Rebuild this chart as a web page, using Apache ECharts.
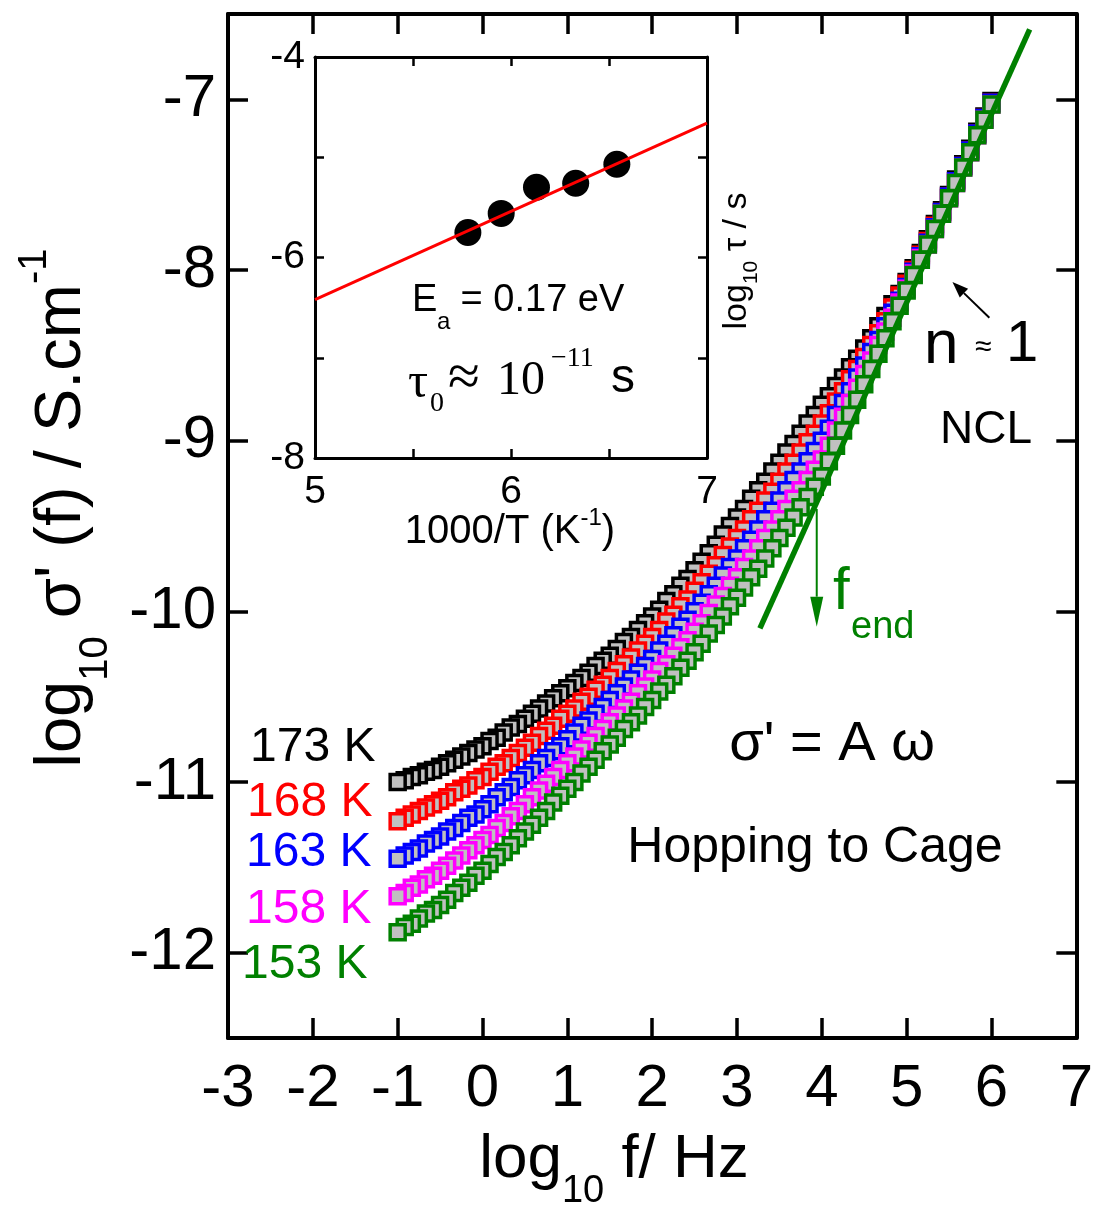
<!DOCTYPE html>
<html><head><meta charset="utf-8">
<script src="https://cdn.jsdelivr.net/npm/echarts@6/dist/echarts.min.js"></script>
<style>html,body{margin:0;padding:0;background:#fff}#c{width:1096px;height:1211px}</style>
</head><body><div id="c"></div>
<script>
// ---------- data ----------
const logF = [-1,-0.917,-0.833,-0.75,-0.667,-0.583,-0.5,-0.417,-0.333,-0.25,-0.167,-0.083,
  0,0.083,0.167,0.25,0.333,0.417,0.5,0.583,0.667,0.75,0.833,0.917,
  1,1.083,1.167,1.25,1.333,1.417,1.5,1.583,1.667,1.75,1.833,1.917,
  2,2.083,2.167,2.25,2.333,2.417,2.5,2.583,2.667,2.75,2.833,2.917,
  3,3.083,3.167,3.25,3.333,3.417,3.5,3.583,3.667,3.75,3.833,3.917,
  4,4.083,4.167,4.25,4.333,4.417,4.5,4.583,4.667,4.75,4.833,4.917,
  5,5.083,5.167,5.25,5.333,5.417,5.5,5.583,5.667,5.75,5.833,5.917,
  6];
const s173 = [-11.00,-10.99,-10.97,-10.96,-10.94,-10.93,-10.91,-10.89,-10.87,-10.85,-10.83,-10.81,
  -10.79,-10.76,-10.74,-10.71,-10.68,-10.66,-10.63,-10.60,-10.57,-10.54,-10.51,-10.48,
  -10.45,-10.42,-10.39,-10.36,-10.32,-10.29,-10.26,-10.22,-10.18,-10.15,-10.11,-10.07,
  -10.03,-9.99,-9.94,-9.90,-9.85,-9.81,-9.76,-9.71,-9.66,-9.61,-9.55,-9.50,
  -9.45,-9.40,-9.34,-9.29,-9.24,-9.18,-9.13,-9.07,-9.02,-8.96,-8.90,-8.85,
  -8.79,-8.74,-8.68,-8.63,-8.57,-8.52,-8.46,-8.40,-8.33,-8.27,-8.20,-8.14,
  -8.07,-7.99,-7.90,-7.82,-7.73,-7.65,-7.56,-7.47,-7.38,-7.29,-7.19,-7.10,
  -7.01];
const s168 = [-11.23,-11.21,-11.19,-11.17,-11.15,-11.13,-11.11,-11.09,-11.06,-11.04,-11.02,-10.99,
  -10.97,-10.94,-10.91,-10.89,-10.86,-10.83,-10.80,-10.77,-10.73,-10.70,-10.67,-10.63,
  -10.60,-10.57,-10.53,-10.50,-10.46,-10.43,-10.39,-10.35,-10.31,-10.27,-10.23,-10.19,
  -10.15,-10.11,-10.06,-10.02,-9.97,-9.93,-9.88,-9.83,-9.78,-9.73,-9.67,-9.62,
  -9.57,-9.52,-9.46,-9.41,-9.35,-9.30,-9.24,-9.18,-9.13,-9.07,-9.01,-8.96,
  -8.90,-8.84,-8.77,-8.71,-8.64,-8.58,-8.51,-8.44,-8.37,-8.30,-8.22,-8.15,
  -8.08,-8.00,-7.91,-7.83,-7.74,-7.66,-7.57,-7.48,-7.39,-7.30,-7.20,-7.11,
  -7.02];
const s163 = [-11.45,-11.43,-11.41,-11.39,-11.36,-11.34,-11.32,-11.29,-11.27,-11.24,-11.21,-11.19,
  -11.16,-11.13,-11.09,-11.06,-11.03,-10.99,-10.96,-10.93,-10.89,-10.86,-10.82,-10.79,
  -10.75,-10.71,-10.67,-10.64,-10.60,-10.56,-10.52,-10.48,-10.44,-10.40,-10.36,-10.32,
  -10.28,-10.23,-10.19,-10.14,-10.09,-10.05,-10.00,-9.95,-9.90,-9.85,-9.79,-9.74,
  -9.69,-9.63,-9.58,-9.52,-9.46,-9.41,-9.35,-9.29,-9.23,-9.18,-9.12,-9.06,
  -9.00,-8.93,-8.85,-8.78,-8.71,-8.63,-8.56,-8.48,-8.41,-8.33,-8.25,-8.18,
  -8.10,-8.01,-7.92,-7.84,-7.75,-7.66,-7.57,-7.48,-7.39,-7.30,-7.20,-7.11,
  -7.02];
const s158 = [-11.67,-11.65,-11.62,-11.60,-11.57,-11.55,-11.52,-11.49,-11.46,-11.43,-11.40,-11.37,
  -11.34,-11.31,-11.27,-11.24,-11.20,-11.17,-11.13,-11.09,-11.05,-11.01,-10.97,-10.93,
  -10.89,-10.85,-10.81,-10.77,-10.73,-10.69,-10.65,-10.61,-10.57,-10.53,-10.48,-10.44,
  -10.40,-10.35,-10.31,-10.26,-10.21,-10.17,-10.12,-10.07,-10.01,-9.96,-9.91,-9.85,
  -9.80,-9.74,-9.69,-9.63,-9.57,-9.52,-9.46,-9.40,-9.34,-9.29,-9.23,-9.17,
  -9.11,-9.03,-8.94,-8.86,-8.78,-8.69,-8.61,-8.53,-8.44,-8.36,-8.28,-8.19,
  -8.11,-8.02,-7.93,-7.85,-7.76,-7.67,-7.58,-7.49,-7.40,-7.31,-7.21,-7.12,
  -7.03];
const s153 = [-11.88,-11.85,-11.83,-11.80,-11.77,-11.75,-11.72,-11.69,-11.65,-11.62,-11.59,-11.55,
  -11.52,-11.48,-11.44,-11.41,-11.37,-11.33,-11.29,-11.25,-11.21,-11.17,-11.12,-11.08,
  -11.04,-11.00,-10.95,-10.91,-10.87,-10.82,-10.78,-10.74,-10.69,-10.65,-10.61,-10.56,
  -10.52,-10.47,-10.43,-10.38,-10.33,-10.29,-10.24,-10.19,-10.13,-10.08,-10.03,-9.97,
  -9.92,-9.86,-9.80,-9.75,-9.69,-9.63,-9.57,-9.51,-9.45,-9.39,-9.33,-9.27,
  -9.21,-9.12,-9.03,-8.94,-8.85,-8.76,-8.67,-8.58,-8.49,-8.40,-8.30,-8.21,
  -8.12,-8.03,-7.94,-7.85,-7.76,-7.67,-7.58,-7.49,-7.40,-7.31,-7.21,-7.12,
  -7.03];
const tempLabels = ['173 K','168 K','163 K','158 K','153 K'];
const nclX = [3.27, 6.45];
const nclY = [-10.10, -6.59];
const fendArrow = [3.94, -9.40, 3.94, -10.09];
const nArrow = [5.975, -8.28, 5.54, -8.07];
// inset
const invT = [5.78, 5.95, 6.13, 6.33, 6.54];
const logTau = [-5.75, -5.56, -5.30, -5.26, -5.07];
const fitX = [5, 7];
const fitY = [-6.42, -4.66];
const mainYTicks = [-12, -11, -10, -9, -8, -7];

// ---------- styles ----------
const SANS = '"Liberation Sans", Arial, sans-serif';
const SERIF = '"Liberation Serif", "Times New Roman", serif';
const colors = ['#000000', '#ff0000', '#0000ff', '#ff00ff', '#008000'];
const seriesValues = [s173, s168, s163, s158, s153];

const chart = echarts.init(document.getElementById('c'), null, {renderer: 'canvas'});

const ctx = document.createElement('canvas').getContext('2d');
function measure(t, size, fam) { ctx.font = size + 'px ' + fam; return ctx.measureText(t).width; }
function txt(x, y, t, size, color, fam, align) {
  return {type: 'text', x: x, y: y, z: 50,
    style: {text: t, fill: color || '#000', font: size + 'px ' + (fam || SANS),
      textAlign: align || 'left', align: align || 'left', textVerticalAlign: 'middle', verticalAlign: 'middle'}};
}
function chain(x, y, pieces, rotation, color) {
  let total = 0;
  pieces.forEach(p => { p.w = measure(p.t, p.s, p.f || SANS); total += p.w; });
  let cx = -total / 2;
  const children = pieces.map(p => {
    const e = {type: 'text', x: cx, y: p.dy || 0,
      style: {text: p.t, fill: color || '#000', font: p.s + 'px ' + (p.f || SANS),
        textAlign: 'left', align: 'left', textVerticalAlign: 'middle', verticalAlign: 'middle'}};
    cx += p.w; return e;
  });
  return {type: 'group', x: x, y: y, rotation: rotation || 0, z: 50, children: children};
}

function arrowSeries(d, color, lw, headL, headW) {
  return {
    type: 'custom', xAxisIndex: 0, yAxisIndex: 0, z: 12, silent: true,
    data: [d],
    renderItem: function (params, api) {
      const p1 = api.coord([api.value(0), api.value(1)]);
      const p2 = api.coord([api.value(2), api.value(3)]);
      const dx = p2[0] - p1[0], dy = p2[1] - p1[1];
      const L = Math.sqrt(dx * dx + dy * dy), ux = dx / L, uy = dy / L;
      const bx = p2[0] - ux * headL, by = p2[1] - uy * headL;
      return {type: 'group', children: [
        {type: 'line', shape: {x1: p1[0], y1: p1[1], x2: bx, y2: by}, style: {stroke: color, lineWidth: lw}},
        {type: 'polygon', shape: {points: [[p2[0], p2[1]], [bx - uy * headW / 2, by + ux * headW / 2], [bx + uy * headW / 2, by - ux * headW / 2]]}, style: {fill: color}}
      ]};
    }
  };
}

const axisBase = (extra) => Object.assign({
  type: 'value', splitLine: {show: false},
  axisLine: {show: true, onZero: false, lineStyle: {color: '#000', width: 4}},
  axisTick: {show: true, inside: true, length: 20, lineStyle: {color: '#000', width: 3.5}},
  axisLabel: {color: '#000', fontSize: 60, fontFamily: SANS}
}, extra);
const insetLine = {show: true, onZero: false, lineStyle: {color: '#000', width: 3}};
const insetTick = {show: true, inside: true, length: 9, lineStyle: {color: '#000', width: 2.5}};

const mainSeries = seriesValues.map((arr, k) => ({
  type: 'scatter', xAxisIndex: 0, yAxisIndex: 0, z: 2 + k, symbol: 'rect', symbolSize: 15,
  itemStyle: {color: '#c0c0c0', borderColor: colors[k], borderWidth: 3.5, opacity: 1},
  data: logF.map((x, i) => [x, arr[i]]).reverse()
}));

const option = {
  animation: false,
  backgroundColor: '#fff',
  grid: [
    {left: 228, top: 14, width: 849, height: 1024},
    {left: 315, top: 57, width: 392, height: 401, show: true, backgroundColor: '#fff', borderWidth: 0}
  ],
  xAxis: [
    axisBase({gridIndex: 0, min: -3, max: 7, interval: 1, position: 'bottom',
      axisLabel: {color: '#000', fontSize: 60, fontFamily: SANS, margin: 21}}),
    axisBase({gridIndex: 0, min: -3, max: 7, interval: 1, position: 'top', axisLabel: {show: false}}),
    axisBase({gridIndex: 1, min: 5, max: 7, interval: 0.5, position: 'bottom', axisLine: insetLine, axisTick: insetTick,
      axisLabel: {color: '#000', fontSize: 39, fontFamily: SANS, margin: 15,
        formatter: v => Number.isInteger(v) ? String(v) : ''}}),
    axisBase({gridIndex: 1, min: 5, max: 7, interval: 0.5, position: 'top', axisLine: insetLine, axisTick: insetTick,
      axisLabel: {show: false}})
  ],
  yAxis: [
    axisBase({gridIndex: 0, min: -12.5, max: -6.5, position: 'left',
      axisTick: {show: true, inside: true, length: 20, lineStyle: {color: '#000', width: 3.5}, customValues: mainYTicks},
      axisLabel: {color: '#000', fontSize: 60, fontFamily: SANS, margin: 12, customValues: mainYTicks}}),
    axisBase({gridIndex: 0, min: -12.5, max: -6.5, position: 'right',
      axisTick: {show: true, inside: true, length: 20, lineStyle: {color: '#000', width: 3.5}, customValues: mainYTicks},
      axisLabel: {show: false}}),
    axisBase({gridIndex: 1, min: -8, max: -4, interval: 1, position: 'left', axisLine: insetLine, axisTick: insetTick,
      axisLabel: {color: '#000', fontSize: 39, fontFamily: SANS, margin: 10,
        formatter: v => (v % 2 === 0) ? String(v) : ''}}),
    axisBase({gridIndex: 1, min: -8, max: -4, interval: 1, position: 'right', axisLine: insetLine, axisTick: insetTick,
      axisLabel: {show: false}})
  ],
  series: mainSeries.concat([
    {type: 'line', xAxisIndex: 0, yAxisIndex: 0, z: 10, symbol: 'none',
      lineStyle: {color: '#008000', width: 5.5}, data: nclX.map((x, i) => [x, nclY[i]])},
    arrowSeries(fendArrow, '#008000', 2, 30, 13),
    arrowSeries(nArrow, '#000000', 2, 16, 12),
    {type: 'scatter', xAxisIndex: 2, yAxisIndex: 2, z: 20, symbol: 'circle', symbolSize: 27,
      itemStyle: {color: '#000', opacity: 1}, data: invT.map((x, i) => [x, logTau[i]])},
    {type: 'line', xAxisIndex: 2, yAxisIndex: 2, z: 21, symbol: 'none',
      lineStyle: {color: '#ff0000', width: 3}, data: fitX.map((x, i) => [x, fitY[i]])}
  ]),
  graphic: {elements: [
    // axis titles
    chain(614, 1160, [{t: 'log', s: 62}, {t: '10', s: 38, dy: 32}, {t: ' f/ Hz', s: 62}]),
    chain(62, 508, [{t: 'log', s: 65}, {t: '10', s: 40, dy: 34}, {t: " \u03c3' (f) / S.cm", s: 65}, {t: '-1', s: 40, dy: -27}], Math.PI / 2),
    // inset titles
    chain(510, 532, [{t: '1000/T (K', s: 40}, {t: '-1', s: 24, dy: -14}, {t: ')', s: 40}]),
    chain(737, 261, [{t: 'log', s: 34}, {t: '10', s: 21, dy: 14}, {t: ' \u03c4 / s', s: 34}], Math.PI / 2),
    // inset annotations
    txt(412, 301, 'E', 38), txt(437, 322, 'a', 24), txt(450, 301, ' = 0.17 eV', 38),
    txt(408, 384, '\u03c4', 50, '#000', SERIF), txt(430, 404, '0', 28, '#000', SERIF),
    txt(448, 380, '\u2248', 58, '#000', SERIF), txt(497, 381, '10', 48, '#000', SERIF),
    txt(551, 359, '\u221211', 28, '#000', SERIF), txt(611, 379, 's', 48),
    // main annotations
    txt(924, 346, 'n', 62), txt(975, 348, '\u2248', 30), txt(1006, 345, '1', 58),
    txt(986, 430, 'NCL', 46, '#000', SANS, 'center'),
    txt(833, 592, 'f', 60, '#008000'), txt(851, 628, 'end', 38, '#008000'),
    txt(832, 745, "\u03c3' = A \u03c9", 56, '#000', SANS, 'center'),
    txt(815, 848, 'Hopping to Cage', 50, '#000', SANS, 'center'),
    txt(250, 748, tempLabels[0], 48, colors[0]),
    txt(247, 803, tempLabels[1], 48, colors[1]),
    txt(246, 853, tempLabels[2], 48, colors[2]),
    txt(246, 910, tempLabels[3], 48, colors[3]),
    txt(242, 965, tempLabels[4], 48, colors[4])
  ]}
};
chart.setOption(option);
</script>
</body></html>
